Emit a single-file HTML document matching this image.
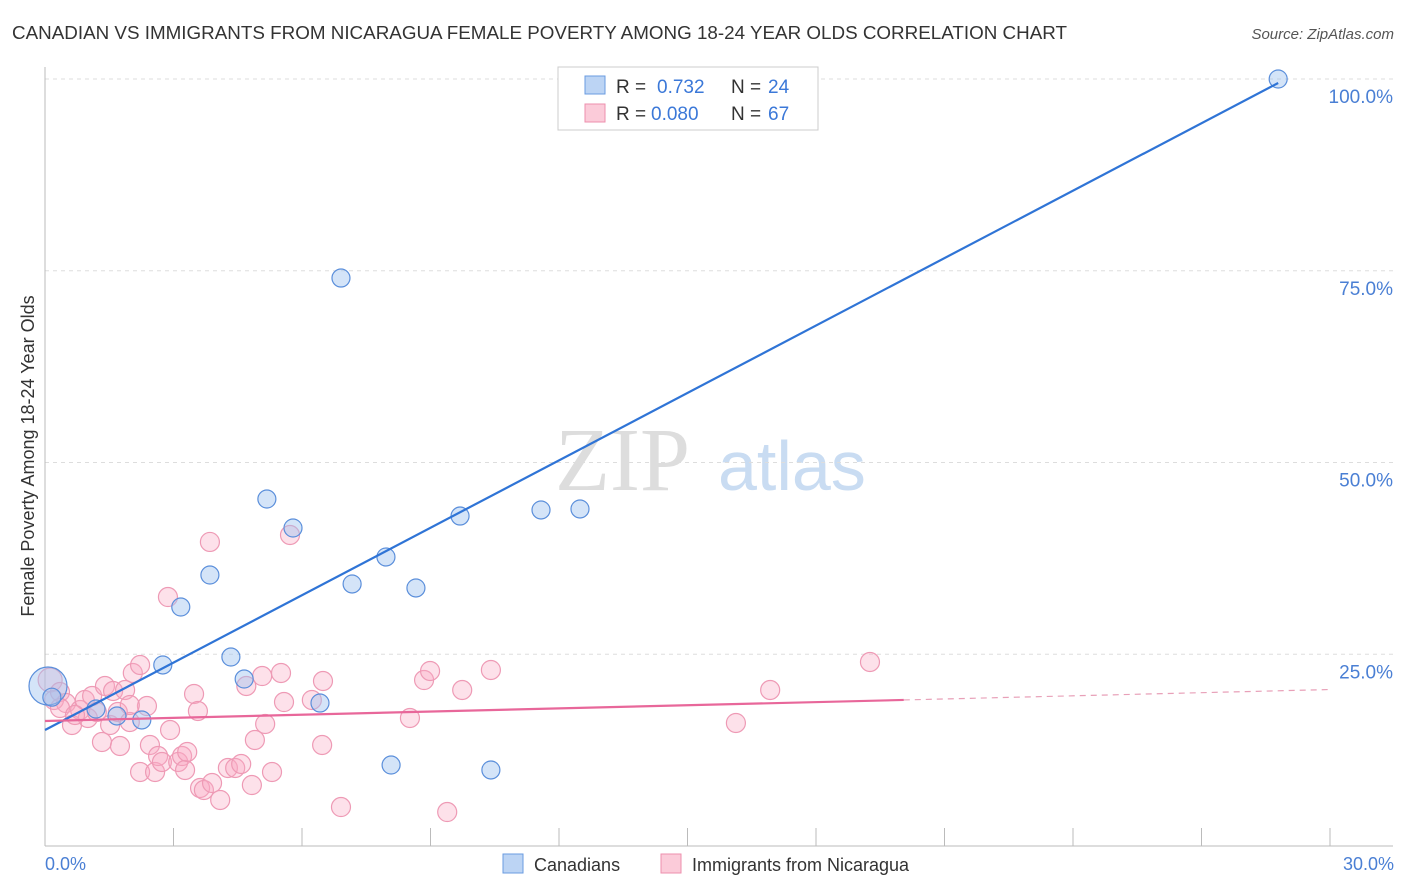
<!DOCTYPE html>
<html><head><meta charset="utf-8"><style>
body{margin:0;background:#fff;font-family:"Liberation Sans",sans-serif;}
#wrap{position:relative;width:1406px;height:892px;overflow:hidden;}
</style></head><body>
<div id="wrap">
<svg id="chart" width="1406" height="892" xmlns="http://www.w3.org/2000/svg">
<text x="12" y="39" font-size="18" fill="#333" textLength="1055" lengthAdjust="spacingAndGlyphs">CANADIAN VS IMMIGRANTS FROM NICARAGUA FEMALE POVERTY AMONG 18-24 YEAR OLDS CORRELATION CHART</text>
<text x="1394" y="39" font-size="15" fill="#555" font-style="italic" text-anchor="end">Source: ZipAtlas.com</text>
<text x="555" y="490" font-size="90" fill="#ddd" font-family="Liberation Serif">ZIP</text>
<text x="718" y="490" font-size="70" fill="#c9dcf2">atlas</text>
<g id="grid"></g>
<g id="axes"></g>
<g id="pts"></g>
<g id="lines"></g>
<text transform="translate(34,456) rotate(-90)" font-size="18" fill="#333" text-anchor="middle">Female Poverty Among 18-24 Year Olds</text>
<text x="45" y="870" font-size="18" fill="#4a7fd4">0.0%</text>
<text x="1394" y="870" font-size="18" fill="#4a7fd4" text-anchor="end">30.0%</text>
<g>
<rect x="558" y="67" width="260" height="63" fill="#fff" stroke="#ccc"/>
<rect x="585" y="76" width="20" height="18" fill="#bcd4f4" stroke="#6a9be0"/>
<rect x="585" y="104" width="20" height="18" fill="#fbcbd9" stroke="#ee8fad"/>
<text x="616" y="93" font-size="19" fill="#333">R =</text>
<text x="657" y="93" font-size="19" fill="#3b78d8">0.732</text>
<text x="731" y="93" font-size="19" fill="#333">N =</text>
<text x="768" y="93" font-size="19" fill="#3b78d8">24</text>
<text x="616" y="120" font-size="19" fill="#333">R =</text>
<text x="651" y="120" font-size="19" fill="#3b78d8">0.080</text>
<text x="731" y="120" font-size="19" fill="#333">N =</text>
<text x="768" y="120" font-size="19" fill="#3b78d8">67</text>
</g>
<g>
<rect x="503" y="854" width="20" height="19" fill="#bcd4f4" stroke="#6a9be0"/>
<text x="534" y="871" font-size="18" fill="#333">Canadians</text>
<rect x="661" y="854" width="20" height="19" fill="#fbcbd9" stroke="#ee8fad"/>
<text x="692" y="871" font-size="18" fill="#333">Immigrants from Nicaragua</text>
</g>
</svg>
</div>
<script>
const yTicks=[25,50,75,100];
const yTickLabels=["25.0%","50.0%","75.0%","100.0%"];
const xTicks=[0,3,6,9,12,15,18,21,24,27,30];
const blueX=[0.07,0.16,1.19,1.68,2.26,2.75,3.17,3.85,4.34,4.65,5.18,5.79,6.42,6.91,7.17,7.96,8.08,8.66,9.69,10.41,11.58,12.49,14.19,28.79];
const blueY=[20.86,19.4,17.86,16.95,16.43,23.6,31.16,35.33,24.64,21.77,45.24,41.46,18.64,74.05,34.16,37.68,10.56,33.64,43.02,9.91,43.81,43.94,100,100];
const pinkX=[0.12,0.21,0.35,0.49,0.63,0.82,0.93,1.0,1.1,1.21,1.33,1.4,1.52,1.59,1.7,1.75,1.87,1.98,2.05,2.22,2.22,2.38,2.45,2.57,2.64,2.73,2.92,2.87,3.11,3.2,3.27,3.32,3.48,3.57,3.62,3.71,3.85,3.9,4.09,4.27,4.44,4.58,4.7,4.83,4.9,5.07,5.14,5.3,5.51,5.58,5.72,6.23,6.47,6.49,6.91,8.52,8.85,8.99,9.39,9.74,10.41,16.13,16.93,19.26,0.35,0.7,1.98];
const pinkY=[21.64,19.04,20.08,18.64,15.78,17.73,19.04,16.69,19.56,17.47,13.56,20.86,15.78,20.21,17.47,13.04,20.34,16.17,22.56,23.6,9.65,18.25,13.17,9.65,11.73,10.95,15.12,32.46,10.95,11.73,9.91,12.26,19.82,17.6,7.56,7.3,39.64,8.21,6.0,10.17,10.17,10.69,20.86,7.95,13.82,22.16,15.91,9.65,22.56,18.77,40.55,19.04,13.17,21.51,5.08,16.69,21.64,22.82,4.43,20.34,22.95,16.04,20.34,23.99,17.99,17.08,18.38];
const blueLine=[15.12,2.93,28.79];
const pinkLine=[16.3,0.1367,20.05];
const NS="http://www.w3.org/2000/svg";
const X=v=>45+v*(1330-45)/30, Y=v=>846-v*7.67;
function mk(tag,attrs,parent){const e=document.createElementNS(NS,tag);for(const k in attrs)e.setAttribute(k,attrs[k]);document.getElementById(parent).appendChild(e);return e;}
yTicks.forEach((t,i)=>{
 const g=mk('line',{x1:45,x2:1393,y1:Y(t),y2:Y(t),stroke:'#ddd','stroke-dasharray':'4,4'},'grid');
 
 
 const l=mk('text',{x:1393,y:Y(t)+24,'font-size':19,fill:'#4a7fd4','text-anchor':'end'},'grid');
 l.textContent=yTickLabels[i];
 
 
});
const ax=mk('line',{x1:45,x2:45,y1:67,y2:846,stroke:'#bbb'},'axes');


const bx=mk('line',{x1:45,x2:1393,y1:846,y2:846,stroke:'#bbb'},'axes');


xTicks.forEach(t=>{
 const tk=mk('line',{x1:X(t),x2:X(t),y1:828,y2:846,stroke:'#bbb'},'axes');
 
 
});
pinkX.forEach((x,i)=>{
 const c=mk('circle',{cx:X(x),cy:Y(pinkY[i]),r:i===0?12:9.5,fill:'rgba(248,170,195,0.35)',stroke:'#ee9ab5','stroke-width':1.2},'pts');
 
 
});
blueX.forEach((x,i)=>{
 const c=mk('circle',{cx:X(x),cy:Y(blueY[i]),r:i===0?19:9,fill:'rgba(160,195,240,0.45)',stroke:'#5b8fdb','stroke-width':1.2},'pts');
 
 
});
const bl=mk('line',{x1:X(0),y1:Y(blueLine[0]),x2:X(blueLine[2]),y2:Y(blueLine[0]+blueLine[1]*blueLine[2]),stroke:'#2f74d6','stroke-width':2.2},'lines');


const pl=mk('line',{x1:X(0),y1:Y(pinkLine[0]),x2:X(pinkLine[2]),y2:Y(pinkLine[0]+pinkLine[1]*pinkLine[2]),stroke:'#e8679a','stroke-width':2.2},'lines');


const pd=mk('line',{x1:X(pinkLine[2]),y1:Y(pinkLine[0]+pinkLine[1]*pinkLine[2]),x2:X(30),y2:Y(pinkLine[0]+pinkLine[1]*30),stroke:'#e8a0b8','stroke-width':1.2,'stroke-dasharray':'6,5'},'lines');


</script>
</body></html>
